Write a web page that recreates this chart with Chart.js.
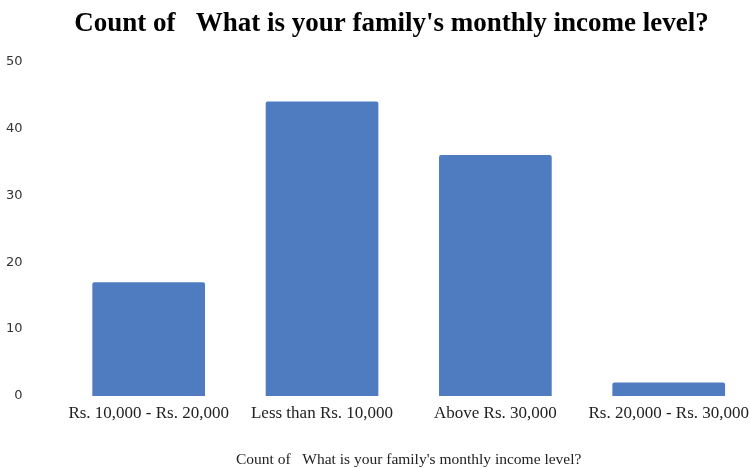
<!DOCTYPE html>
<html>
<head>
<meta charset="utf-8">
<script src="https://cdn.jsdelivr.net/npm/chart.js@4/dist/chart.umd.min.js"></script>
<style>
  html, body { margin: 0; padding: 0; background: #fff; overflow: hidden; }
  #wrap { width: 756px; height: 469px; }
</style>
</head>
<body>
<div id="wrap"><canvas id="incomeChart" width="756" height="469"></canvas></div>
<script>
const categories = ['Rs. 10,000 - Rs. 20,000', 'Less than Rs. 10,000', 'Above Rs. 30,000', 'Rs. 20,000 - Rs. 30,000'];
const counts = [17, 44, 36, 2];
const yTicks = [0, 10, 20, 30, 40, 50];
const titleText = "Count of   What is your family's monthly income level?";
const axisTitleText = "Count of   What is your family's monthly income level?";

const serif = '"Liberation Serif", "DejaVu Serif", serif';

const ctx = document.getElementById('incomeChart');
new Chart(ctx, {
  type: 'bar',
  data: {
    labels: categories,
    datasets: [{
      label: 'Count',
      data: counts,
      backgroundColor: '#4f7cc0',
      borderRadius: 2,
      borderSkipped: 'bottom',
      categoryPercentage: 1,
      barPercentage: 0.65
    }]
  },
  options: {
    responsive: false,
    animation: false,
    layout: { padding: { left: 27, right: 0, top: 0, bottom: 0 } },
    plugins: {
      legend: { display: false },
      tooltip: { enabled: false },
      title: {
        display: true,
        text: titleText,
        color: '#000',
        font: { family: serif, size: 27, weight: 'bold' },
        padding: { top: 8, bottom: 21 }
      }
    },
    scales: {
      x: {
        grid: { display: false, drawTicks: false },
        border: { display: false },
        ticks: {
          color: '#222',
          autoSkip: false,
          maxRotation: 0,
          padding: 7,
          font: { family: serif, size: 17 }
        },
        title: {
          display: true,
          text: axisTitleText,
          color: '#222',
          font: { family: serif, size: 15.5 },
          padding: { top: 20, bottom: 0 }
        }
      },
      y: {
        min: yTicks[0],
        max: yTicks[yTicks.length - 1],
        afterFit: axis => { axis.width = 35; },
        grid: { display: false, drawTicks: false },
        border: { display: false },
        ticks: {
          stepSize: yTicks[1] - yTicks[0],
          color: '#333',
          // mirrored labels are not clipped to the axis box, pull them back left
          mirror: true,
          crossAlign: 'far',
          padding: -56,
          font: { family: '"DejaVu Sans", sans-serif', size: 13 }
        }
      }
    }
  }
});
</script>
</body>
</html>
